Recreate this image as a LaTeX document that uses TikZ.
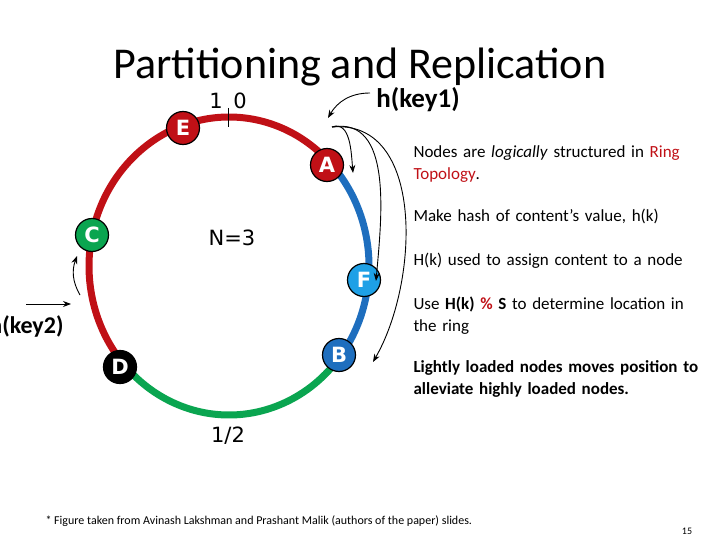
\documentclass[tikz,border=0pt]{standalone}
\usepackage{fontspec}
\setmainfont{Carlito}
\newfontfamily\dvs{DejaVu Sans}
\usetikzlibrary{arrows.meta}
\definecolor{rred}{RGB}{192,16,22}
\definecolor{rblue}{RGB}{30,110,190}
\definecolor{rgreen}{RGB}{10,165,80}
\definecolor{lblue}{RGB}{30,160,230}
\begin{document}
\begin{tikzpicture}[x=1pt,y=-1pt,
  ring/.style={line width=7pt},
  pt/.style={circle,draw=black,line width=1.2pt,minimum size=33pt,inner sep=0pt,text=white,font=\dvs\bfseries\fontsize{21}{21}\selectfont},
  arr/.style={-{Stealth[length=8pt]},line width=0.9pt},
  side/.style={anchor=north west,align=left,font=\fontsize{17}{22}\selectfont,text width=320pt}]
\useasboundingbox (0,0) rectangle (720,540);
\def\cx{229}\def\cy{266}
\draw[ring,rred] (\cx,\cy) ++(-44:140 and 149) arc[start angle=-44,end angle=-221,x radius=140,y radius=149];
\draw[ring,rblue] (\cx,\cy) ++(-44:140 and 149) arc[start angle=-44,end angle=37,x radius=140,y radius=149];
\draw[ring,rgreen] (\cx,\cy) ++(37:140 and 149) arc[start angle=37,end angle=139,x radius=140,y radius=149];
\draw[line width=1pt] (228,108) -- (228,127);
\node[font=\dvs\fontsize{21}{21}\selectfont] (one) at (216,101) {1};
\node[font=\dvs\fontsize{21}{21}\selectfont] (zero) at (240,101) {0};
\node[font=\dvs\fontsize{21}{21}\selectfont] (half) at (228,436) {1/2};
\node[font=\dvs\fontsize{21}{21}\selectfont] (n) at (232,238) {N=3};
\node[pt,fill=rred] (E) at (183,128) {E};
\node[pt,fill=rred] (A) at (327,165) {A};
\node[pt,fill=rgreen] (C) at (92,235) {C};
\node[pt,fill=lblue] (F) at (364,280) {F};
\node[pt,fill=rblue] (B) at (339,355) {B};
\node[pt,fill=black] (D) at (120,367) {D};
\node[font=\fontsize{44}{44}\selectfont] (title) at (360,67) {Partitioning and Replication};
\node[font=\bfseries\fontsize{27}{27}\selectfont] (hk1) at (418,100) {h(key1)};
\node[font=\bfseries\fontsize{24}{24}\selectfont,anchor=east] (hk2) at (67,326) {h(key2)};
\coordinate (s) at (332,127);
\draw[arr] (370,93) to[out=180,in=60] (328,118);
\draw[arr] (s) to[out=20,in=95] (353,173);
\draw[arr] (s) to[out=10,in=85] (376,281);
\draw[arr] (s) to[out=5,in=60] (373,362);
\coordinate (k2a) at (26,304);
\draw[arr] (k2a) -- (71,304);
\coordinate (k2b) at (80,295);
\draw[arr] (k2b) to[out=120,in=250] (77,256);
\node[side] (t1) at (410,142) {Nodes are \textit{logically} structured in {\color{rred}Ring\\Topology}.};
\node[side] (t2) at (410,206) {Make hash of content’s value, h(k)};
\node[side] (t3) at (410,250) {H(k) used to assign content to a node};
\node[side] (t4) at (410,293) {Use \textbf{H(k) {\color{rred}\%} S} to determine location in\\the ring};
\node[side] (t5) at (410,357) {\textbf{Lightly loaded nodes moves position to\\alleviate highly loaded nodes.}};
\node[anchor=west,font=\fontsize{12}{12}\selectfont] (foot) at (42,521) {* Figure taken from  Avinash Lakshman and Prashant Malik (authors of the paper) slides.};
\node[font=\fontsize{10}{10}\selectfont] (pg) at (687,531) {15};
\end{tikzpicture}
\end{document}
